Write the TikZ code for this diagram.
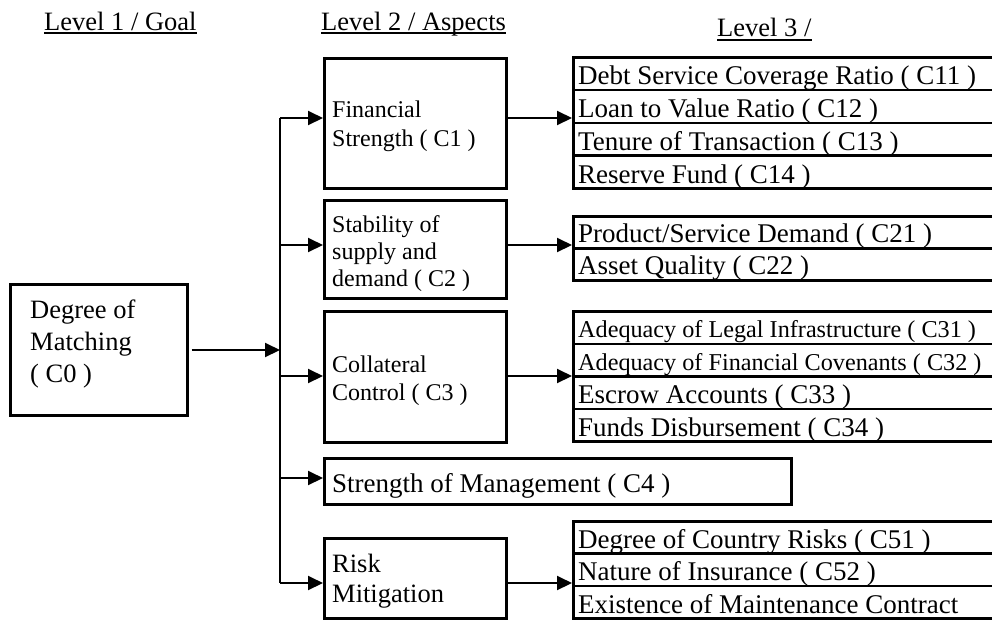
\documentclass[tikz,border=0pt]{standalone}
\usepackage{fontspec}
\setmainfont{Liberation Serif}
\usetikzlibrary{arrows.meta}
\begin{document}
\begin{tikzpicture}[x=1pt,y=-1pt,
  box/.style={draw, line width=2.6pt, rectangle, inner sep=0pt, anchor=north west},
  rowbox/.style={box, minimum width=450pt},
  conn/.style={line width=2pt, -{Triangle[length=15pt,width=14pt]}},
  busline/.style={line width=2pt},
  lbl/.style={anchor=base west, inner sep=0pt},
  head/.style={lbl, font=\fontsize{26.5}{30}\selectfont},
  goal/.style={lbl, font=\fontsize{26.5}{30}\selectfont},
  aspect/.style={lbl, font=\fontsize{24}{28}\selectfont},
  aspectbig/.style={lbl, font=\fontsize{26.5}{30}\selectfont},
  crit/.style={lbl, font=\fontsize{27}{30}\selectfont},
  critsmall/.style={lbl, font=\fontsize{24.2}{28}\selectfont},
  uline/.style={line width=1.2pt}]
\useasboundingbox (0,0) rectangle (992,619);
\clip (0,0) rectangle (992,619);

% headers
\node[head] (h1) at (44,30) {Level 1 / Goal};
\node[head] (h2) at (321,30) {Level 2 / Aspects};
\node[head] (h3) at (717,36) {Level 3 /};
\draw[uline] ([yshift=-3pt]h1.base west) -- ([yshift=-3pt]h1.base east);
\draw[uline] ([yshift=-3pt]h2.base west) -- ([yshift=-3pt]h2.base east);
\draw[uline] ([yshift=-4pt]h3.base west) -- ([yshift=-4pt]h3.base east);

% goal
\node[box, minimum width=177pt, minimum height=131pt] (c0) at (9,283) {};
\node[goal] (c0a) at (30,318) {Degree of};
\node[goal] (c0b) at (30,350) {Matching};
\node[goal] (c0c) at (30,382) {( C0 )};

% aspects
\node[box, minimum width=182pt, minimum height=130pt] (c1) at (323,57) {};
\node[aspect] (c1a) at (332,117) {Financial};
\node[aspect] (c1b) at (332,146) {Strength ( C1 )};

\node[box, minimum width=182pt, minimum height=98pt] (c2) at (323,199) {};
\node[aspect] (c2a) at (332,232) {Stability of};
\node[aspect] (c2b) at (332,259) {supply and};
\node[aspect] (c2c) at (332,286) {demand ( C2 )};

\node[box, minimum width=182pt, minimum height=131pt] (c3) at (323,310) {};
\node[aspect] (c3a) at (332,372) {Collateral};
\node[aspect] (c3b) at (332,400) {Control ( C3 )};

\node[box, minimum width=467pt, minimum height=46pt] (c4) at (323,457) {};
\node[crit] (c4a) at (332,492) {Strength of Management ( C4 )};

\node[box, minimum width=182pt, minimum height=80pt] (c5) at (323,537) {};
\node[aspectbig] (c5a) at (332,572) {Risk};
\node[aspectbig] (c5b) at (332,602) {Mitigation};

% level 3 groups
\node[rowbox, minimum height=32.75pt] (g11) at (572,56) {};
\node[rowbox, minimum height=32.75pt] (g12) at (572,88.75) {};
\node[rowbox, minimum height=32.75pt] (g13) at (572,121.5) {};
\node[rowbox, minimum height=32.75pt] (g14) at (572,154.25) {};
\node[crit] (t11) at (578,84) {Debt Service Coverage Ratio ( C11 )};
\node[crit] (t12) at (578,117) {Loan to Value Ratio ( C12 )};
\node[crit] (t13) at (578,150) {Tenure of Transaction ( C13 )};
\node[crit] (t14) at (578,183) {Reserve Fund ( C14 )};

\node[rowbox, minimum height=32pt] (g21) at (572,215) {};
\node[rowbox, minimum height=32pt] (g22) at (572,247) {};
\node[crit] (t21) at (578,242) {Product/Service Demand ( C21 )};
\node[crit] (t22) at (578,274) {Asset Quality ( C22 )};

\node[rowbox, minimum height=32.5pt] (g31) at (572,310) {};
\node[rowbox, minimum height=32.5pt] (g32) at (572,342.5) {};
\node[rowbox, minimum height=32.5pt] (g33) at (572,375) {};
\node[rowbox, minimum height=32.5pt] (g34) at (572,407.5) {};
\node[critsmall] (t31) at (578,337) {Adequacy of Legal Infrastructure ( C31 )};
\node[critsmall] (t32) at (578,370) {Adequacy of Financial Covenants ( C32 )};
\node[crit] (t33) at (578,403) {Escrow Accounts ( C33 )};
\node[crit] (t34) at (578,436) {Funds Disbursement ( C34 )};

\node[rowbox, minimum height=32.33pt] (g51) at (572,520) {};
\node[rowbox, minimum height=32.33pt] (g52) at (572,552.33) {};
\node[rowbox, minimum height=32.33pt] (g53) at (572,584.67) {};
\node[crit] (t51) at (578,548) {Degree of Country Risks ( C51 )};
\node[crit] (t52) at (578,580) {Nature of Insurance ( C52 )};
\node[crit] (t53) at (578,613) {Existence of Maintenance Contract};

% bus
\coordinate (b1) at (280,118);
\coordinate (b2) at (280,245);
\coordinate (b3) at (280,376);
\coordinate (b4) at (280,478);
\coordinate (b5) at (280,583);
\coordinate (b0) at (280,350);
\draw[busline] (b1) -- (b5);
\draw[conn] ([xshift=3pt]c0.east |- b0) -- (b0);
\draw[conn] (b1) -- (b1 -| c1.west);
\draw[conn] (b2) -- (b2 -| c2.west);
\draw[conn] (b3) -- (b3 -| c3.west);
\draw[conn] (b4) -- (b4 -| c4.west);
\draw[conn] (b5) -- (b5 -| c5.west);

% to level 3
\draw[conn] (b1 -| c1.east) -- (b1 -| g11.west);
\draw[conn] (b2 -| c2.east) -- (b2 -| g21.west);
\draw[conn] (b3 -| c3.east) -- (b3 -| g31.west);
\draw[conn] (b5 -| c5.east) -- (b5 -| g51.west);
\end{tikzpicture}
\end{document}
